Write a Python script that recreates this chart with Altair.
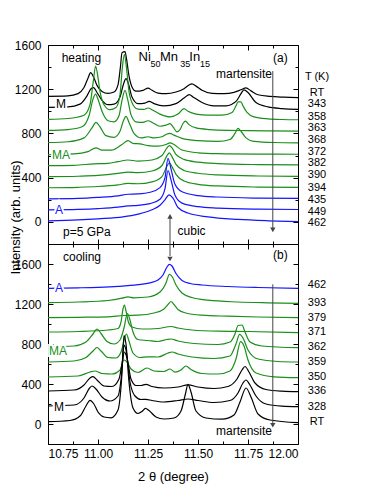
import altair as alt
import pandas as pd

# ---------------- data: (2theta, intensity) ----------------
# heating panel (a)
heat_RT = [(10.75,1136),(10.85,1140),(10.9,1160),(10.93,1215),(10.95,1300),(10.963,1350),(10.978,1310),(10.995,1235),(11.02,1180),(11.05,1162),(11.08,1175),(11.1,1240),(11.112,1400),(11.12,1530),(11.135,1540),(11.143,1470),(11.155,1320),(11.17,1220),(11.19,1182),(11.225,1190),(11.25,1210),(11.27,1190),(11.3,1165),(11.34,1160),(11.39,1175),(11.43,1205),(11.455,1238),(11.47,1248),(11.49,1228),(11.52,1190),(11.57,1162),(11.63,1160),(11.68,1172),(11.715,1195),(11.74,1212),(11.765,1185),(11.8,1150),(11.86,1135),(11.93,1128),(12.0,1124)]
heat_343 = [(10.75,1036),(10.85,1040),(10.91,1065),(10.945,1140),(10.965,1205),(10.978,1215),(10.995,1170),(11.02,1100),(11.05,1060),(11.08,1065),(11.11,1130),(11.128,1250),(11.14,1295),(11.152,1250),(11.17,1130),(11.2,1070),(11.235,1075),(11.255,1090),(11.28,1070),(11.33,1050),(11.39,1070),(11.43,1120),(11.457,1152),(11.475,1130),(11.52,1080),(11.58,1050),(11.64,1050),(11.69,1090),(11.715,1160),(11.73,1195),(11.75,1170),(11.79,1080),(11.85,1040),(11.92,1025),(12.0,1018)]
heat_358 = [(10.75,927),(10.85,935),(10.93,965),(10.96,1060),(10.977,1280),(10.988,1410),(10.998,1330),(11.01,1180),(11.03,1060),(11.06,1015),(11.09,1035),(11.11,1150),(11.122,1400),(11.132,1515),(11.142,1400),(11.155,1180),(11.175,1060),(11.2,1020),(11.23,1018),(11.25,1030),(11.275,1010),(11.31,975),(11.36,950),(11.4,975),(11.43,1024),(11.45,1000),(11.49,975),(11.55,965),(11.62,965),(11.67,990),(11.69,1050),(11.7,1085),(11.715,1085),(11.725,1050),(11.745,990),(11.78,950),(11.85,932),(11.92,926),(12.0,924)]
heat_363 = [(10.75,827),(10.85,835),(10.92,860),(10.955,960),(10.975,1110),(10.988,1155),(11.0,1110),(11.02,1000),(11.05,915),(11.08,905),(11.105,960),(11.12,1100),(11.135,1190),(11.148,1110),(11.165,970),(11.19,905),(11.225,900),(11.25,915),(11.275,895),(11.31,865),(11.34,875),(11.36,888),(11.375,860),(11.395,815),(11.41,835),(11.425,890),(11.437,912),(11.455,880),(11.49,850),(11.56,835),(11.65,828),(11.75,826),(11.85,823),(12.0,821)]
heat_368 = [(10.75,718),(10.85,725),(10.93,760),(10.97,850),(10.99,900),(11.01,860),(11.04,780),(11.08,765),(11.11,820),(11.128,920),(11.14,955),(11.155,900),(11.18,800),(11.215,760),(11.25,770),(11.28,760),(11.32,770),(11.345,795),(11.36,800),(11.38,785),(11.42,755),(11.5,735),(11.6,728),(11.66,745),(11.685,800),(11.7,845),(11.715,820),(11.74,760),(11.78,728),(11.88,718),(12.0,715)]
heat_372 = [(10.75,609),(10.88,615),(10.95,635),(10.99,670),(11.02,650),(11.07,650),(11.12,700),(11.15,735),(11.175,710),(11.21,705),(11.25,690),(11.3,685),(11.34,700),(11.36,715),(11.38,700),(11.42,650),(11.5,625),(11.6,617),(11.8,613),(12.0,612)]
heat_382 = [(10.75,509),(10.88,512),(10.98,525),(11.05,530),(11.1,545),(11.15,560),(11.2,550),(11.27,560),(11.32,600),(11.345,670),(11.357,690),(11.37,670),(11.39,610),(11.43,565),(11.5,540),(11.6,527),(11.8,518),(12.0,515)]
heat_390 = [(10.75,409),(10.9,413),(11.0,420),(11.1,438),(11.15,450),(11.2,445),(11.27,460),(11.32,510),(11.345,600),(11.357,625),(11.37,590),(11.39,520),(11.43,465),(11.5,440),(11.6,425),(11.8,415),(12.0,412)]
heat_394 = [(10.75,309),(10.9,313),(11.0,320),(11.1,335),(11.15,348),(11.2,345),(11.27,362),(11.32,410),(11.345,505),(11.357,535),(11.37,500),(11.39,430),(11.43,370),(11.5,340),(11.6,325),(11.8,315),(12.0,312)]
heat_435 = [(10.75,209),(10.9,213),(11.0,222),(11.1,236),(11.15,250),(11.2,253),(11.26,268),(11.31,310),(11.335,400),(11.35,575),(11.365,480),(11.385,340),(11.42,272),(11.5,238),(11.6,225),(11.8,215),(12.0,212)]
heat_449 = [(10.75,109),(10.9,113),(11.0,120),(11.1,133),(11.15,145),(11.2,150),(11.26,165),(11.31,205),(11.335,300),(11.35,465),(11.365,380),(11.385,240),(11.42,170),(11.5,138),(11.6,125),(11.8,115),(12.0,112)]
heat_462 = [(10.75,9),(10.9,18),(11.0,28),(11.125,45),(11.2,70),(11.27,110),(11.31,150),(11.335,200),(11.355,245),(11.375,215),(11.4,130),(11.45,80),(11.55,45),(11.7,22),(11.85,10),(12.0,3)]

# cooling panel (b)
cool_462 = [(10.75,1357),(10.9,1362),(11.0,1367),(11.1,1376),(11.2,1393),(11.26,1412),(11.3,1440),(11.325,1490),(11.345,1570),(11.357,1597),(11.37,1580),(11.39,1505),(11.42,1435),(11.46,1405),(11.52,1390),(11.65,1375),(11.8,1365),(12.0,1357)]
cool_393 = [(10.75,1213),(10.9,1220),(11.05,1235),(11.12,1258),(11.15,1272),(11.18,1262),(11.25,1270),(11.31,1320),(11.34,1410),(11.357,1497),(11.372,1470),(11.39,1390),(11.42,1310),(11.47,1265),(11.55,1238),(11.7,1220),(11.85,1212),(12.0,1207)]
cool_379 = [(10.75,1063),(10.9,1067),(11.05,1072),(11.13,1085),(11.2,1088),(11.28,1110),(11.33,1150),(11.352,1200),(11.365,1225),(11.38,1195),(11.4,1145),(11.44,1110),(11.52,1088),(11.65,1078),(11.8,1070),(12.0,1063)]
cool_371 = [(10.75,920),(10.9,925),(11.05,940),(11.1,955),(11.115,1020),(11.125,1150),(11.132,1190),(11.14,1130),(11.152,1020),(11.17,970),(11.22,950),(11.3,955),(11.365,975),(11.4,960),(11.47,940),(11.6,928),(11.75,925),(12.0,913)]
cool_362 = [(10.75,770),(10.88,780),(10.94,820),(10.975,900),(10.995,950),(11.015,905),(11.045,825),(11.08,800),(11.11,840),(11.13,960),(11.147,1105),(11.16,1040),(11.175,920),(11.2,845),(11.25,835),(11.3,825),(11.345,845),(11.365,850),(11.4,830),(11.48,805),(11.6,795),(11.66,820),(11.685,900),(11.7,985),(11.72,990),(11.735,920),(11.76,820),(11.82,780),(12.0,763)]
cool_359 = [(10.75,620),(10.88,630),(10.94,665),(10.975,730),(10.995,765),(11.015,730),(11.05,665),(11.09,660),(11.115,720),(11.13,830),(11.142,900),(11.155,830),(11.175,710),(11.21,665),(11.25,672),(11.3,670),(11.35,710),(11.37,720),(11.4,700),(11.47,670),(11.58,655),(11.66,680),(11.69,800),(11.708,897),(11.725,860),(11.75,740),(11.8,650),(11.9,625),(12.0,620)]
cool_350 = [(10.75,470),(10.9,480),(10.96,520),(10.985,530),(11.02,505),(11.07,500),(11.11,540),(11.13,640),(11.145,620),(11.165,550),(11.2,515),(11.245,560),(11.28,530),(11.33,525),(11.36,550),(11.385,518),(11.415,540),(11.44,580),(11.465,545),(11.52,505),(11.6,500),(11.66,530),(11.69,650),(11.713,823),(11.73,780),(11.75,640),(11.79,510),(11.88,472),(12.0,463)]
cool_336 = [(10.75,330),(10.88,340),(10.93,390),(10.96,460),(10.975,473),(10.995,440),(11.03,380),(11.07,375),(11.105,450),(11.12,600),(11.132,720),(11.145,660),(11.165,450),(11.19,385),(11.215,385),(11.24,397),(11.27,375),(11.33,360),(11.4,370),(11.45,392),(11.5,370),(11.58,355),(11.65,375),(11.695,450),(11.72,540),(11.735,575),(11.755,520),(11.785,410),(11.84,345),(11.92,328),(12.0,323)]
cool_328 = [(10.75,180),(10.88,190),(10.93,260),(10.958,360),(10.97,380),(10.99,350),(11.02,270),(11.06,230),(11.1,280),(11.118,500),(11.13,790),(11.142,720),(11.16,420),(11.185,280),(11.215,245),(11.24,247),(11.27,235),(11.33,220),(11.4,235),(11.45,250),(11.5,235),(11.58,215),(11.66,235),(11.7,310),(11.725,410),(11.74,440),(11.76,390),(11.79,280),(11.84,200),(11.92,178),(12.0,173)]
cool_RT = [(10.75,23),(10.86,35),(10.91,80),(10.94,180),(10.96,237),(10.978,205),(11.0,120),(11.03,70),(11.065,62),(11.1,140),(11.118,450),(11.13,885),(11.14,800),(11.155,420),(11.175,160),(11.2,105),(11.22,125),(11.237,157),(11.255,135),(11.29,70),(11.33,50),(11.38,60),(11.415,130),(11.437,300),(11.45,397),(11.465,320),(11.49,130),(11.54,60),(11.62,48),(11.68,90),(11.71,220),(11.74,360),(11.765,270),(11.8,100),(11.86,40),(12.0,13)]

heat_names = ["RT", "343", "358", "363", "368", "372", "382", "390", "394", "435", "449", "462"]
heat_phase = ["M", "M", "MA", "MA", "MA", "MA", "MA", "MA", "MA", "A", "A", "A"]
heat_curves = [heat_RT, heat_343, heat_358, heat_363, heat_368, heat_372, heat_382, heat_390, heat_394, heat_435, heat_449, heat_462]
heat_label_y = [1164, 1064, 950, 848, 745, 636, 536, 427, 309, 200, 91, -9]

cool_names = ["462", "393", "379", "371", "362", "359", "350", "336", "328", "RT"]
cool_phase = ["A", "MA", "MA", "MA", "MA", "MA", "MA", "M", "M", "M"]
cool_curves = [cool_462, cool_393, cool_379, cool_371, cool_362, cool_359, cool_350, cool_336, cool_328, cool_RT]
cool_label_y = [1387, 1213, 1057, 920, 770, 620, 473, 330, 173, 23]

x_major = [10.75, 11.0, 11.25, 11.5, 11.75, 12.0]
x_minor = [10.875, 11.125, 11.375, 11.625, 11.875]
y_major = [0, 400, 800, 1200, 1600]
top_y_minor = [-200, 200, 600, 1000, 1400]
bot_y_minor = [-200, 200, 600, 1000, 1400, 1800]

# ---------------- styling ----------------
FONT = "Liberation Sans"
BLACK, GREEN, BLUE = "#000000", "#1a8f1a", "#1515ff"
ARROW = "#444444"
phase_color = alt.Color("phase:N", scale=alt.Scale(domain=["M", "MA", "A"], range=[BLACK, GREEN, BLUE]), legend=None)
XS = alt.Scale(domain=[10.75, 12.0], nice=False, zero=False)
W = 250
YS_ref = [None]


def curve_frame(names, phases, curves):
    rows = []
    for n, p, c in zip(names, phases, curves):
        for t, v in c:
            rows.append({"series": n, "phase": p, "theta": t, "I": v})
    return pd.DataFrame(rows)


def texts(rows, size=12, align="left", color=BLACK, halo=False):
    df = pd.DataFrame(rows, columns=["x", "y", "t"])
    base = alt.Chart(df)
    enc = dict(x=alt.X("x:Q", scale=XS, axis=None), y=alt.Y("y:Q", scale=YS_ref[0], axis=None), text="t:N")
    layers = []
    if halo:
        layers.append(base.mark_text(font=FONT, fontSize=size, align=align, baseline="middle",
                                     color="white", stroke="white", strokeWidth=4).encode(**enc))
    layers.append(base.mark_text(font=FONT, fontSize=size, align=align, baseline="middle", color=color).encode(**enc))
    return layers


def tick_layer(df, ys, xvals, yvals, size, xorient, yorient):
    common = dict(labels=False, domain=False, grid=False, title=None, ticks=True,
                  tickSize=size, offset=-size, tickColor=BLACK, tickWidth=1)
    return alt.Chart(df.head(2)).mark_point(opacity=0).encode(
        x=alt.X("theta:Q", scale=XS, axis=alt.Axis(orient=xorient, values=xvals, **common)),
        y=alt.Y("I:Q", scale=ys, axis=alt.Axis(orient=yorient, values=yvals, **common)),
    )


def arrows(rules, heads):
    rdf = pd.DataFrame(rules, columns=["x", "y", "y2"])
    hdf = pd.DataFrame(heads, columns=["x", "y", "shape"])
    r = alt.Chart(rdf).mark_rule(color=ARROW, strokeWidth=1).encode(
        x=alt.X("x:Q", scale=XS, axis=None), y=alt.Y("y:Q", scale=YS_ref[0], axis=None), y2="y2:Q")
    h = alt.Chart(hdf).mark_point(filled=True, color=ARROW, size=28, opacity=1).encode(
        x=alt.X("x:Q", scale=XS, axis=None), y=alt.Y("y:Q", scale=YS_ref[0], axis=None),
        shape=alt.Shape("shape:N", scale=None))
    return [r, h]


def panel(df, ydom, yminor, height, xlabels, extra, ytitle):
    ys = alt.Scale(domain=ydom, nice=False, zero=False)
    YS_ref[0] = ys
    if xlabels:
        xaxis = alt.Axis(orient="bottom", values=x_major, format=".2f", ticks=False, tickSize=0, domain=False,
                         grid=False, labelPadding=4, labelFontSize=12, title="2 \u03b8 (degree)",
                         titleFontSize=13, titleFontWeight="normal", titleY=32, titleBaseline="middle")
    else:
        xaxis = None
    yargs = dict(orient="left", values=y_major, format="d", ticks=False, tickSize=0, domain=False, grid=False,
                 labelPadding=7, labelFontSize=12)
    if ytitle:
        yargs.update(title="Intensity (arb. units)", titleFontSize=13, titleFontWeight="normal",
                     titleX=-33, titleY=172, titleAngle=270, titleBaseline="middle", titleAlign="center")
    else:
        yargs.update(title=None)
    lines = alt.Chart(df).mark_line(strokeWidth=1.2, interpolate="monotone").encode(
        x=alt.X("theta:Q", scale=XS, axis=xaxis),
        y=alt.Y("I:Q", scale=ys, axis=alt.Axis(**yargs)),
        color=phase_color,
        detail="series:N",
    )
    ticks = [
        tick_layer(df, ys, x_major, y_major, 5, "bottom", "left"),
        tick_layer(df, ys, x_minor, yminor, 3, "bottom", "left"),
        tick_layer(df, ys, x_major, y_major, 5, "top", "right"),
        tick_layer(df, ys, x_minor, yminor, 3, "top", "right"),
    ]
    layers = [lines] + ticks + extra()
    return alt.layer(*layers).resolve_axis(x="independent", y="independent").properties(width=W, height=height)


heat_df = curve_frame(heat_names, heat_phase, heat_curves)
cool_df = curve_frame(cool_names, cool_phase, cool_curves)


def top_extra():
    L = []
    L += arrows([(11.874, 1364, -60), (11.36, -200, 40)],
                [(11.874, -72, "triangle-down"), (11.36, 50, "triangle-up")])
    L += texts([(10.8185, 1482, "heating"), (11.875, 1482, "(a)"), (10.825, -91, "p=5 GPa"), (11.398, -79, "cubic")])
    L += texts([(11.73, 1336, "martensite")], align="center")
    L += texts([(12.095, 1309, "T (K)")] + [(12.095, y, n) for n, y in zip(heat_names, heat_label_y)], size=11, align="center")
    L += texts([(11.2025, 1494, "Ni"), (11.31, 1494, "Mn"), (11.4565, 1494, "In")], size=13)
    L += texts([(11.2625, 1432, "50"), (11.4115, 1432, "35"), (11.51, 1432, "15")], size=9)
    L += texts([(10.815, 1063, "M")], align="center", color=BLACK, halo=True)
    L += texts([(10.815, 609, "MA")], align="center", color=GREEN, halo=True)
    L += texts([(10.805, 109, "A")], align="center", color=BLUE, halo=True)
    return L


def bot_extra():
    L = []
    L += arrows([(11.874, 1397, 0), (11.36, 1800, 1680)],
                [(11.874, -12, "triangle-down"), (11.36, 1650, "triangle-down")])
    L += texts([(10.825, 1673, "cooling"), (11.875, 1687, "(b)")])
    L += texts([(11.73, -70, "martensite")], align="center")
    L += texts([(12.095, y, n) for n, y in zip(cool_names, cool_label_y)], size=11, align="center")
    L += texts([(10.805, 1363, "A")], align="center", color=BLUE, halo=True)
    L += texts([(10.8, 735, "MA")], align="center", color=GREEN, halo=True)
    L += texts([(10.805, 175, "M")], align="center", color=BLACK, halo=True)
    return L


top = panel(heat_df, [-200, 1600], top_y_minor, 199, False, top_extra, True)
bottom = panel(cool_df, [-200, 1800], bot_y_minor, 200, True, bot_extra, False)

chart = alt.vconcat(top, bottom, spacing=0, bounds="flush").properties(
    padding={"left": 0, "top": 30, "right": 5, "bottom": 0}
).configure_view(stroke=BLACK, strokeWidth=1).configure_axis(
    labelFont=FONT, titleFont=FONT, labelColor=BLACK, titleColor=BLACK
)

chart.save("out.html", embed_options={"renderer": "svg", "actions": False})
